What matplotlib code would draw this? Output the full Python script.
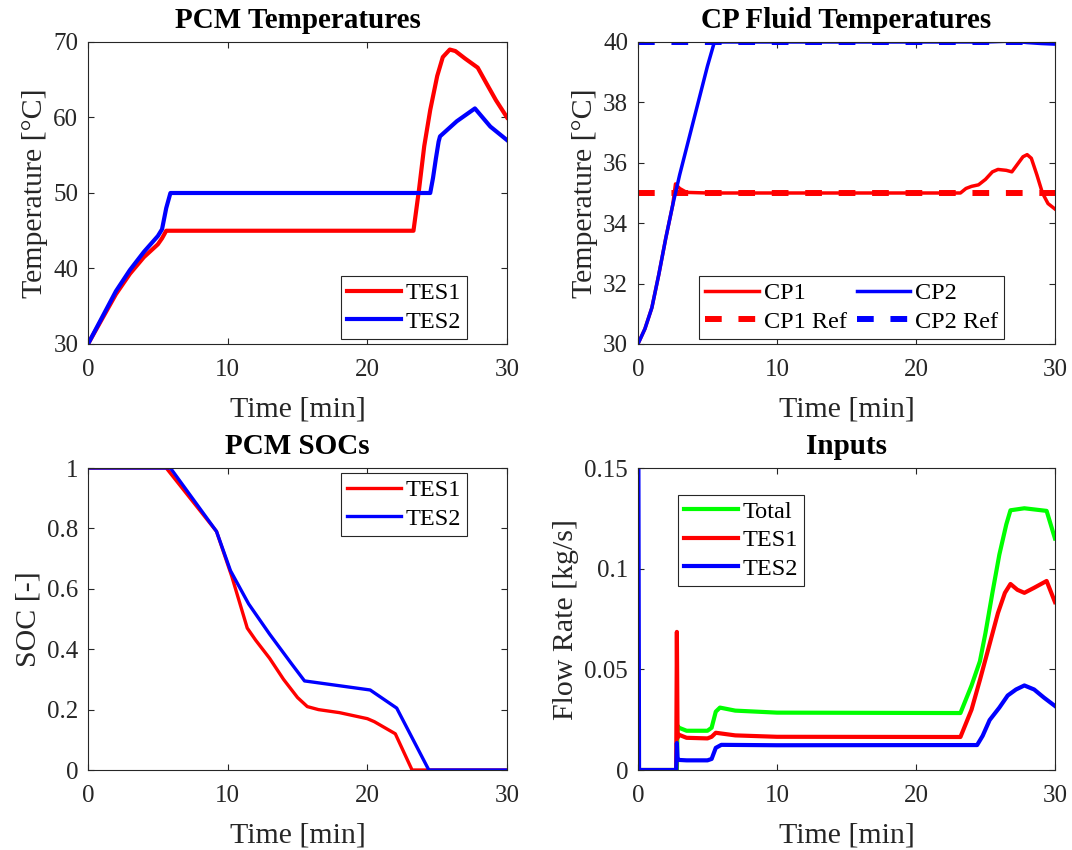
"""
Four-panel summary of the TES / cold-plate simulation run.
"""

import matplotlib

matplotlib.use("Agg")
import matplotlib.pyplot as plt
from matplotlib.ticker import FuncFormatter

# ---- PCM temperatures [degC] ----
t_pcm1 = [0, 1, 2, 3, 4, 5, 5.3, 5.6, 23.3, 23.7, 24.07, 24.5, 25.0, 25.4, 25.9,
          26.3, 27.0, 27.9, 28.5, 29.2, 30]
T_pcm1 = [30, 33.3, 36.6, 39.3, 41.5, 43.2, 44.0, 45, 45, 50.5, 56.2, 61, 65.5, 68,
          69, 68.8, 67.8, 66.6, 64.6, 62.3, 60]
t_pcm2 = [0, 1, 2, 3, 4, 5, 5.3, 5.6, 5.9, 24.5, 24.7, 24.9, 25.1, 25.2, 26.4,
          27.7, 28.8, 30]
T_pcm2 = [30, 33.5, 37, 39.8, 42.2, 44.3, 45.2, 48, 50, 50, 52, 54.5, 56.8, 57.5,
          59.5, 61.2, 58.8, 57]

# ---- cold plate fluid temperatures [degC] ----
t_cp2 = [0, 0.5, 1.0, 1.5, 2.0, 2.5, 3.0, 3.5, 4.0, 4.5, 5.0, 5.5, 6, 10, 15, 20,
         25, 27, 28, 29, 30]
T_cp2 = [30, 30.5, 31.2, 32.3, 33.5, 34.6, 35.6, 36.5, 37.4, 38.3, 39.2, 40.0, 40.0,
         40.0, 40.0, 40.0, 40.0, 40.03, 39.98, 39.95, 39.93]
t_cp1 = [0, 0.5, 1.0, 1.5, 2.0, 2.5, 2.7, 3.0, 3.5, 5, 23.2, 23.6, 24.0, 24.5, 25.0,
         25.5, 25.9, 26.5, 26.9, 27.3, 27.7, 28.0, 28.3, 28.7, 29.1, 29.5, 30]
T_cp1 = [30, 30.5, 31.2, 32.3, 33.5, 34.6, 35.3, 35.15, 35.02, 35.0, 35.0, 35.15,
         35.22, 35.27, 35.45, 35.7, 35.78, 35.75, 35.7, 35.95, 36.2, 36.27, 36.15,
         35.6, 35.0, 34.65, 34.47]
t_ref = [0, 30]
T_ref1 = [35, 35]
T_ref2 = [40, 40]

# ---- PCM state of charge [-] ----
t_soc1 = [0, 5.6, 9.2, 10.3, 11.4, 12, 13, 14, 15, 15.7, 16.5, 18, 20, 20.5, 22.0,
          23.2, 30]
soc1 = [1, 1, 0.79, 0.64, 0.47, 0.43, 0.37, 0.30, 0.24, 0.21, 0.20, 0.19, 0.17,
        0.16, 0.12, 0, 0]
t_soc2 = [0, 5.9, 9.2, 10.2, 11.5, 13, 14.6, 15.5, 20.2, 22.1, 24.4, 30]
soc2 = [1, 1, 0.79, 0.66, 0.55, 0.45, 0.35, 0.295, 0.265, 0.205, 0, 0]

# ---- flow rate inputs [kg/s] ----
t_total = [0, 0.05, 2.8, 2.85, 2.95, 3.5, 5.0, 5.3, 5.6, 5.9, 7, 10, 23.2, 24.0,
           24.6, 25.0, 25.5, 26.0, 26.5, 26.8, 27.8, 29.4, 30]
m_total = [0.03, 0, 0, 0.022, 0.021, 0.0195, 0.0195, 0.021, 0.029, 0.031, 0.0295,
           0.0285, 0.0283, 0.042, 0.054, 0.068, 0.088, 0.107, 0.122, 0.129, 0.130,
           0.1287, 0.115]
t_tes1 = [0, 0.05, 2.75, 2.8, 2.85, 2.95, 3.5, 5.0, 5.3, 5.6, 7, 10, 23.2, 24.0,
          24.6, 25.2, 25.9, 26.4, 26.8, 27.3, 27.8, 28.5, 29.4, 30]
m_tes1 = [0.056, 0, 0, 0.0686, 0.016, 0.0175, 0.016, 0.0157, 0.0165, 0.0185,
          0.0172, 0.0165, 0.0164, 0.030, 0.0447, 0.060, 0.078, 0.088, 0.0924,
          0.0895, 0.088, 0.0905, 0.0939, 0.0834]
t_tes2 = [0, 0.03, 0.08, 2.75, 2.8, 2.85, 2.95, 3.5, 5.0, 5.3, 5.6, 6.0, 10, 24.4,
          24.8, 25.3, 26.0, 26.6, 27.2, 27.8, 28.5, 29.2, 30]
m_tes2 = [0.16, 0.16, 0, 0, 0.0134, 0.006, 0.005, 0.0048, 0.0048, 0.0055, 0.011,
          0.0125, 0.0123, 0.0124, 0.017, 0.0248, 0.031, 0.037, 0.040, 0.042, 0.040,
          0.036, 0.0318]

AX_COL = "#262626"
plt.rcParams["font.family"] = ["Liberation Serif", "DejaVu Serif"]


def style_axes(ax, ylim, yticks, ylabel, title):
    ax.set_xlim(0, 30)
    ax.set_ylim(*ylim)
    ax.set_xticks([0, 10, 20, 30])
    ax.set_yticks(yticks)
    ax.yaxis.set_major_formatter(FuncFormatter(lambda v, _: f"{v:g}"))
    ax.tick_params(direction="in", top=True, right=True, length=4, width=0.8,
                   labelsize=18, colors=AX_COL, labelcolor=AX_COL)
    ax.tick_params(axis="y", pad=7)
    ax.tick_params(axis="x", pad=11)
    for sp in ax.spines.values():
        sp.set_color(AX_COL)
        sp.set_linewidth(0.8)
    ax.set_xlabel("Time [min]", fontsize=21.5, color=AX_COL, labelpad=11)
    ax.set_ylabel(ylabel, fontsize=21.5, color=AX_COL, labelpad=4)
    ax.set_title(title, fontsize=21, fontweight="bold", pad=10)


def legend(ax, **kw):
    opts = dict(fontsize=17.5, fancybox=False, framealpha=1, edgecolor=AX_COL,
                handlelength=2.2, borderpad=0.25, labelspacing=0.26,
                handletextpad=0.2, borderaxespad=0)
    opts.update(kw)
    leg = ax.legend(**opts)
    leg.get_frame().set_linewidth(0.8)
    return leg


fig = plt.figure(figsize=(10.72, 8.5), dpi=100)
w, h = 0.3909, 0.3553
ax1 = fig.add_axes([0.0821, 0.5953, w, h])
ax2 = fig.add_axes([0.5951, 0.5953, 0.389, h])
ax3 = fig.add_axes([0.0821, 0.0941, w, h])
ax4 = fig.add_axes([0.5951, 0.0941, 0.389, h])

# PCM temperatures
ax1.plot(t_pcm1, T_pcm1, color="red", lw=3, label="TES1")
ax1.plot(t_pcm2, T_pcm2, color="blue", lw=3, label="TES2")
style_axes(ax1, (30, 70), [30, 40, 50, 60, 70], "Temperature [°C]",
           "PCM Temperatures")
legend(ax1, loc="lower right", bbox_to_anchor=(0.905, 0.017))

# CP fluid temperatures
ax2.plot(t_cp1, T_cp1, color="red", lw=2.5, label="CP1")
ax2.plot(t_ref, T_ref1, color="red", lw=4.3, dashes=(2.8, 2.8), label="CP1 Ref")
ax2.plot(t_cp2, T_cp2, color="blue", lw=2.5, label="CP2")
ax2.plot(t_ref, T_ref2, color="blue", lw=4.3, dashes=(2.8, 2.8), label="CP2 Ref")
style_axes(ax2, (30, 40), [30, 32, 34, 36, 38, 40], "Temperature [°C]",
           "CP Fluid Temperatures")
legend(ax2, loc="lower right", bbox_to_anchor=(0.878, 0.017), ncol=2,
       columnspacing=0.4)

# SOCs
ax3.plot(t_soc1, soc1, color="red", lw=2.4, label="TES1")
ax3.plot(t_soc2, soc2, color="blue", lw=2.4, label="TES2")
style_axes(ax3, (0, 1), [0, 0.2, 0.4, 0.6, 0.8, 1], "SOC [-]", "PCM SOCs")
legend(ax3, loc="upper right", bbox_to_anchor=(0.905, 0.983))

# Inputs
ax4.plot(t_total, m_total, color="lime", lw=3, label="Total")
ax4.plot(t_tes1, m_tes1, color="red", lw=3, label="TES1")
ax4.plot(t_tes2, m_tes2, color="blue", lw=3, label="TES2")
style_axes(ax4, (0, 0.15), [0, 0.05, 0.1, 0.15], "Flow Rate [kg/s]", "Inputs")
legend(ax4, loc="upper left", bbox_to_anchor=(0.096, 0.911))

fig.savefig("out.png", dpi=100)
plt.close(fig)
